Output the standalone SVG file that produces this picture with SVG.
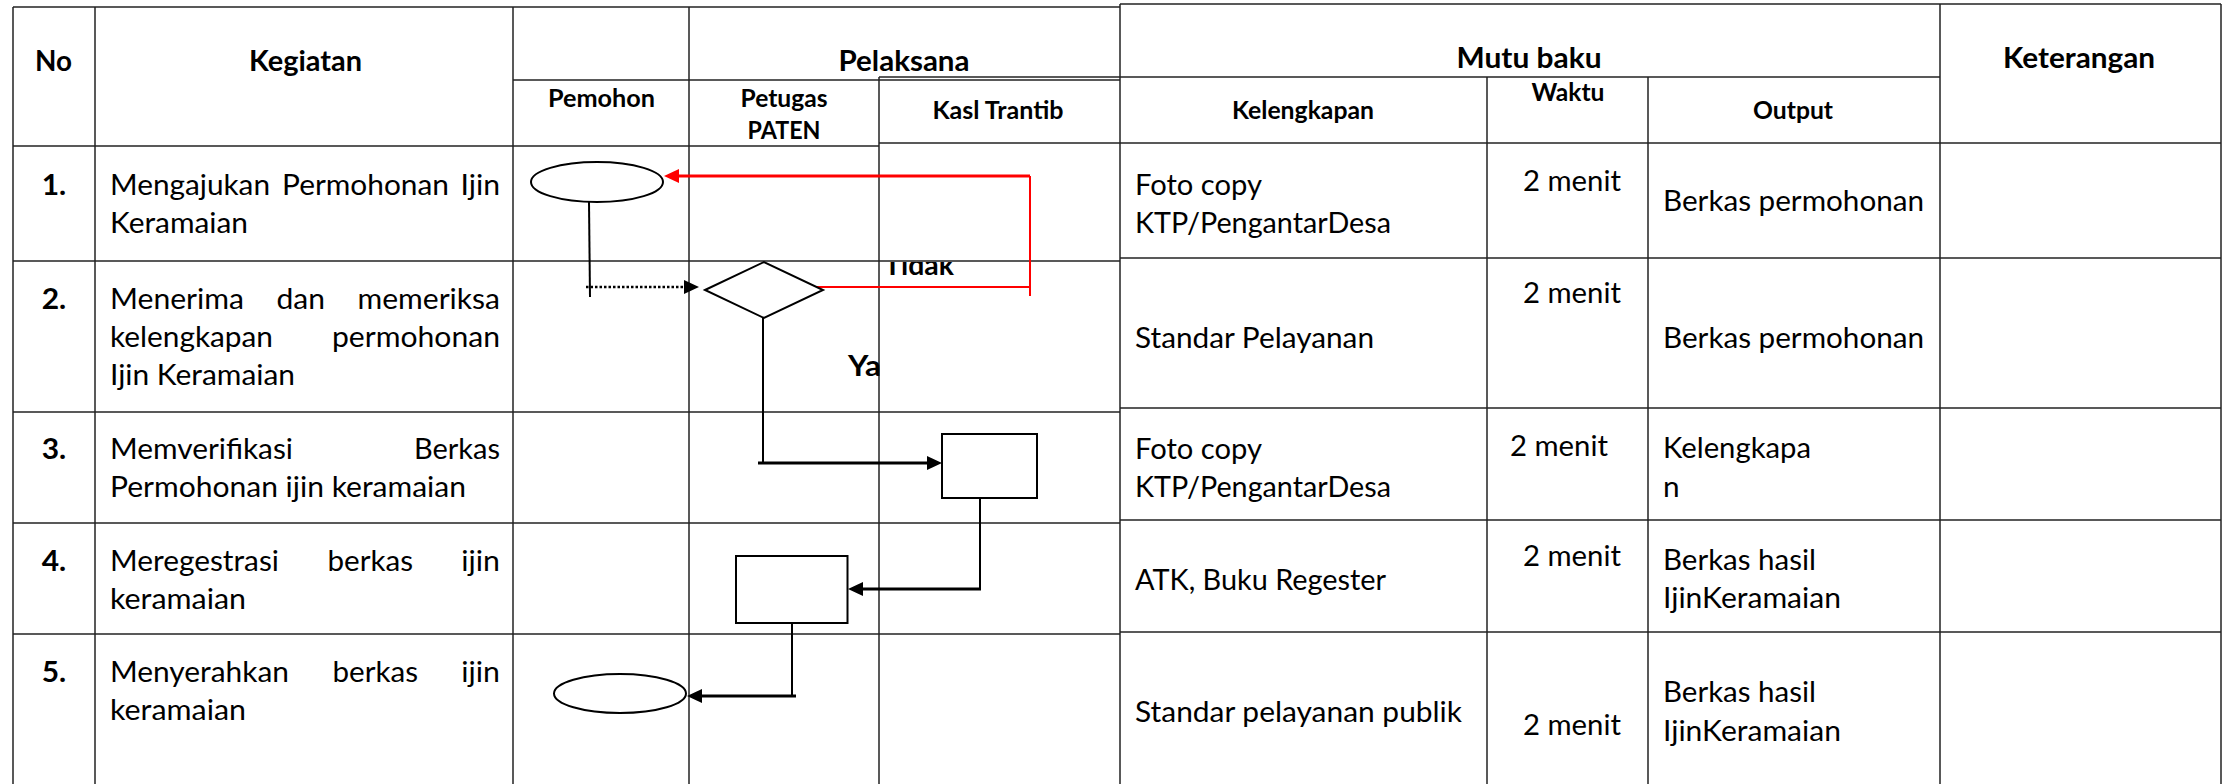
<svg xmlns="http://www.w3.org/2000/svg" width="2223" height="784" viewBox="0 0 2223 784">
  <style>
    .grid { stroke: #222; stroke-width: 1.5; fill: none; }
    .shape { stroke: #000; stroke-width: 2; fill: #fff; }
    .ln { stroke: #000; stroke-width: 2; fill: none; }
    .lnb { stroke: #000; stroke-width: 3; fill: none; }
    .dot { stroke: #000; stroke-width: 2.5; stroke-dasharray: 2.5 2; fill: none; }
    .red { stroke: #f00; stroke-width: 2; fill: none; }
    .redb { stroke: #f00; stroke-width: 3; fill: none; }
    text { font-family: Lato, "Liberation Sans", sans-serif; font-size: 29px; fill: #000; }
    .b { font-weight: 700; }
    .s { font-weight: 700; font-size: 24.5px; }
    .m { text-anchor: middle; }
    .e { text-anchor: end; }
  </style>
  <defs>
    <marker id="arrow" markerUnits="userSpaceOnUse" markerWidth="15" markerHeight="14" refX="0" refY="7" orient="auto">
      <path d="M0,0 L15,7 L0,14 Z" fill="#000"/>
    </marker>
    <marker id="arrowRed" markerUnits="userSpaceOnUse" markerWidth="15" markerHeight="14" refX="0" refY="7" orient="auto">
      <path d="M0,0 L15,7 L0,14 Z" fill="#f00"/>
    </marker>
    <clipPath id="clipTidak"><rect x="870" y="262" width="120" height="30"/></clipPath>
    <clipPath id="clipYa"><rect x="840" y="340" width="40" height="50"/></clipPath>
  </defs>

  <rect width="2223" height="784" fill="#fff"/>

  <!-- left table: activities and swimlanes -->
  <g id="table-left" class="grid">
    <path d="M13,7 H1120"/>
    <path d="M513,80 H1120"/>
    <path d="M879,77 H1120"/>
    <path d="M13,146 H879"/>
    <path d="M879,143 H1120"/>
    <path d="M13,261 H1120"/>
    <path d="M13,412 H1120"/>
    <path d="M13,523 H1120"/>
    <path d="M13,634 H1120"/>
    <path d="M13,7 V784"/>
    <path d="M95,7 V784"/>
    <path d="M513,7 V784"/>
    <path d="M689,7 V784"/>
    <path d="M879,77 V784"/>
  </g>

  <!-- right table: quality standard and remarks -->
  <g id="table-right" class="grid">
    <path d="M1120,4 H2221"/>
    <path d="M1120,77 H1940"/>
    <path d="M1120,143 H2221"/>
    <path d="M1120,258 H2221"/>
    <path d="M1120,408 H2221"/>
    <path d="M1120,520 H2221"/>
    <path d="M1120,632 H2221"/>
    <path d="M1120,4 V784"/>
    <path d="M1487,77 V784"/>
    <path d="M1648,77 V784"/>
    <path d="M1940,4 V784"/>
    <path d="M2221,4 V784"/>
  </g>

  <!-- header texts -->
  <g id="headers">
    <text class="b m" x="53.5" y="71" textLength="37" lengthAdjust="spacingAndGlyphs">No</text>
    <text class="b m" x="305.5" y="71" textLength="113" lengthAdjust="spacingAndGlyphs">Kegiatan</text>
    <text class="b m" x="904" y="71" textLength="131" lengthAdjust="spacingAndGlyphs">Pelaksana</text>
    <text class="s m" x="601.5" y="107" textLength="107" lengthAdjust="spacingAndGlyphs">Pemohon</text>
    <text class="s m" x="784" y="107" textLength="87" lengthAdjust="spacingAndGlyphs">Petugas</text>
    <text class="s m" x="784" y="139" textLength="73" lengthAdjust="spacingAndGlyphs">PATEN</text>
    <text class="s m" x="998" y="119" textLength="131" lengthAdjust="spacingAndGlyphs">Kasl Trantib</text>
    <text class="b m" x="1529" y="68" textLength="145" lengthAdjust="spacingAndGlyphs">Mutu baku</text>
    <text class="b m" x="2079" y="68" textLength="152" lengthAdjust="spacingAndGlyphs">Keterangan</text>
    <text class="s m" x="1303" y="119" textLength="142" lengthAdjust="spacingAndGlyphs">Kelengkapan</text>
    <text class="s m" x="1568" y="101" textLength="73" lengthAdjust="spacingAndGlyphs">Waktu</text>
    <text class="s m" x="1793" y="119" textLength="80" lengthAdjust="spacingAndGlyphs">Output</text>
  </g>

  <!-- activity rows -->
  <g id="activities">
    <text class="b m" x="54" y="195" textLength="24.5" lengthAdjust="spacingAndGlyphs">1.</text>
    <text x="110" y="195" textLength="160" lengthAdjust="spacingAndGlyphs">Mengajukan</text>
    <text x="282" y="195" textLength="167" lengthAdjust="spacingAndGlyphs">Permohonan</text>
    <text class="e" x="500" y="195" textLength="39.5" lengthAdjust="spacingAndGlyphs">Ijin</text>
    <text x="110" y="233" textLength="138" lengthAdjust="spacingAndGlyphs">Keramaian</text>

    <text class="b m" x="54" y="309" textLength="24.5" lengthAdjust="spacingAndGlyphs">2.</text>
    <text x="110" y="309" textLength="134" lengthAdjust="spacingAndGlyphs">Menerima</text>
    <text x="276.5" y="309" textLength="48.5" lengthAdjust="spacingAndGlyphs">dan</text>
    <text class="e" x="500" y="309" textLength="142.5" lengthAdjust="spacingAndGlyphs">memeriksa</text>
    <text x="110" y="347" textLength="163" lengthAdjust="spacingAndGlyphs">kelengkapan</text>
    <text class="e" x="500" y="347" textLength="168" lengthAdjust="spacingAndGlyphs">permohonan</text>
    <text x="110" y="385" textLength="185" lengthAdjust="spacingAndGlyphs">Ijin Keramaian</text>

    <text class="b m" x="54" y="459" textLength="24.5" lengthAdjust="spacingAndGlyphs">3.</text>
    <text x="110" y="459" textLength="183" lengthAdjust="spacingAndGlyphs">Memverifikasi</text>
    <text class="e" x="500" y="459" textLength="86" lengthAdjust="spacingAndGlyphs">Berkas</text>
    <text x="110" y="497" textLength="356" lengthAdjust="spacingAndGlyphs">Permohonan ijin keramaian</text>

    <text class="b m" x="54" y="571" textLength="24.5" lengthAdjust="spacingAndGlyphs">4.</text>
    <text x="110" y="571" textLength="169" lengthAdjust="spacingAndGlyphs">Meregestrasi</text>
    <text x="327.5" y="571" textLength="85.5" lengthAdjust="spacingAndGlyphs">berkas</text>
    <text class="e" x="500" y="571" textLength="38.7" lengthAdjust="spacingAndGlyphs">ijin</text>
    <text x="110" y="609" textLength="136" lengthAdjust="spacingAndGlyphs">keramaian</text>

    <text class="b m" x="54" y="682" textLength="24.5" lengthAdjust="spacingAndGlyphs">5.</text>
    <text x="110" y="682" textLength="179" lengthAdjust="spacingAndGlyphs">Menyerahkan</text>
    <text x="332.5" y="682" textLength="85.5" lengthAdjust="spacingAndGlyphs">berkas</text>
    <text class="e" x="500" y="682" textLength="38.7" lengthAdjust="spacingAndGlyphs">ijin</text>
    <text x="110" y="720" textLength="136" lengthAdjust="spacingAndGlyphs">keramaian</text>
  </g>

  <!-- quality standard cells -->
  <g id="standards">
    <text x="1135" y="195" textLength="127" lengthAdjust="spacingAndGlyphs">Foto copy</text>
    <text x="1135" y="233" textLength="256" lengthAdjust="spacingAndGlyphs">KTP/PengantarDesa</text>
    <text x="1523" y="191" textLength="98" lengthAdjust="spacingAndGlyphs">2 menit</text>
    <text x="1663" y="211" textLength="261" lengthAdjust="spacingAndGlyphs">Berkas permohonan</text>

    <text x="1523" y="303" textLength="98" lengthAdjust="spacingAndGlyphs">2 menit</text>
    <text x="1135" y="348" textLength="239" lengthAdjust="spacingAndGlyphs">Standar Pelayanan</text>
    <text x="1663" y="348" textLength="261" lengthAdjust="spacingAndGlyphs">Berkas permohonan</text>

    <text x="1135" y="459" textLength="127" lengthAdjust="spacingAndGlyphs">Foto copy</text>
    <text x="1135" y="497" textLength="256" lengthAdjust="spacingAndGlyphs">KTP/PengantarDesa</text>
    <text x="1510" y="456" textLength="98" lengthAdjust="spacingAndGlyphs">2 menit</text>
    <text x="1663" y="458" textLength="148" lengthAdjust="spacingAndGlyphs">Kelengkapa</text>
    <text x="1663" y="497" textLength="16.6" lengthAdjust="spacingAndGlyphs">n</text>

    <text x="1135" y="590" textLength="251" lengthAdjust="spacingAndGlyphs">ATK, Buku Regester</text>
    <text x="1523" y="566" textLength="98" lengthAdjust="spacingAndGlyphs">2 menit</text>
    <text x="1663" y="570" textLength="153" lengthAdjust="spacingAndGlyphs">Berkas hasil</text>
    <text x="1663" y="608" textLength="178" lengthAdjust="spacingAndGlyphs">IjinKeramaian</text>

    <text x="1135" y="722" textLength="327" lengthAdjust="spacingAndGlyphs">Standar pelayanan publik</text>
    <text x="1523" y="735" textLength="98" lengthAdjust="spacingAndGlyphs">2 menit</text>
    <text x="1663" y="702" textLength="153" lengthAdjust="spacingAndGlyphs">Berkas hasil</text>
    <text x="1663" y="741" textLength="178" lengthAdjust="spacingAndGlyphs">IjinKeramaian</text>
  </g>

  <!-- flow connectors -->
  <g id="connectors">
    <path class="ln" d="M589,202 L590,297"/>
    <path class="dot" d="M586,287 H684" marker-end="url(#arrow)"/>
    <path class="red" d="M816,287 H1030"/>
    <path class="red" d="M1030,296 V176"/>
    <path class="redb" d="M1030,176 H679" marker-end="url(#arrowRed)"/>
    <path class="ln" d="M763,318 V463"/>
    <path class="lnb" d="M758,463 H927" marker-end="url(#arrow)"/>
    <path class="ln" d="M980,498 V589"/>
    <path class="lnb" d="M981,589 H863" marker-end="url(#arrow)"/>
    <path class="ln" d="M792,623 V696"/>
    <path class="lnb" d="M796,696 H702" marker-end="url(#arrow)"/>
  </g>

  <!-- decision labels -->
  <g id="labels">
    <text class="b" x="884" y="275" clip-path="url(#clipTidak)" textLength="70" lengthAdjust="spacingAndGlyphs">Tidak</text>
    <text class="b" x="848" y="376" clip-path="url(#clipYa)" textLength="33" lengthAdjust="spacingAndGlyphs">Ya</text>
  </g>

  <!-- flow nodes -->
  <g id="node-start">
    <ellipse class="shape" cx="597" cy="182" rx="66" ry="20"/>
  </g>
  <g id="node-check">
    <path class="shape" d="M705,290 L764,262 L823,290 L764,318 Z"/>
  </g>
  <g id="node-verify">
    <rect class="shape" x="942" y="434" width="95" height="64"/>
  </g>
  <g id="node-register">
    <rect class="shape" x="736" y="556" width="111.5" height="67"/>
  </g>
  <g id="node-end">
    <ellipse class="shape" cx="620" cy="693.5" rx="66" ry="19.5"/>
  </g>
</svg>
